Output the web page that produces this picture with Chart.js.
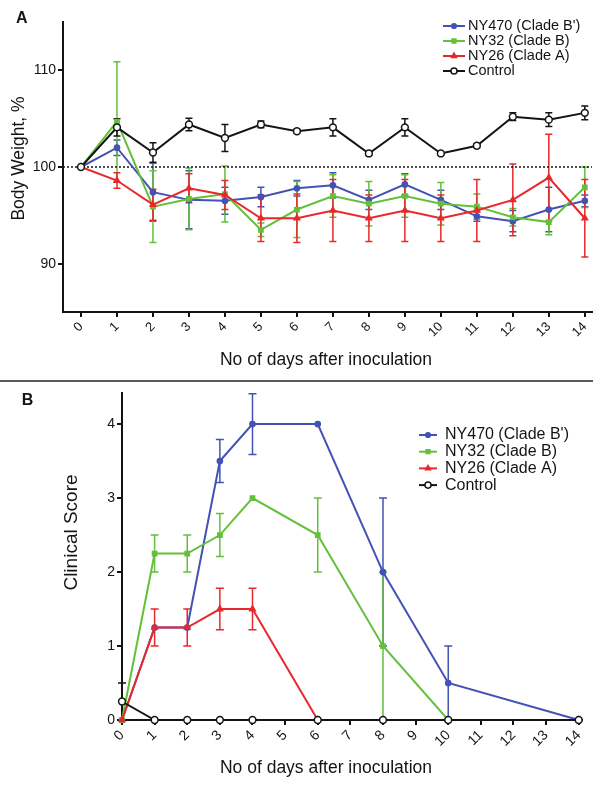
<!DOCTYPE html>
<html>
<head>
<meta charset="utf-8">
<title>Body weight and clinical score</title>
<script src="https://cdn.jsdelivr.net/npm/chart.js@4.4.1/dist/chart.umd.min.js"></script>
<style>
  html, body { margin: 0; padding: 0; background: #fff; }
  #wrap { position: relative; width: 601px; height: 790px; }
  #chartA { position: absolute; left: 0; top: 0; }
  #sep { position: absolute; left: 0; top: 380px; width: 593px; height: 2px; background: #5a5a5a; }
  #chartB { position: absolute; left: 0; top: 382px; }
</style>
</head>
<body>
<div id="wrap">
  <canvas id="chartA" width="601" height="379"></canvas>
  <div id="sep"></div>
  <canvas id="chartB" width="601" height="408"></canvas>
</div>
<script>
// --- data ---
const seriesLabels = ["NY470 (Clade B')", "NY32 (Clade B)", "NY26 (Clade A)", "Control"];

// panel A: body weight (%), days 0..14
const days = [0, 1, 2, 3, 4, 5, 6, 7, 8, 9, 10, 11, 12, 13, 14];
const weightNY470 = [100, 102.0, 97.4, 96.6, 96.5, 96.9, 97.8, 98.1, 96.6, 98.2, 96.6, 94.9, 94.4, 95.6, 96.5];
const weightNY470Err = [0, 0.8, 3.0, 3.0, 1.4, 1.0, 0.8, 1.3, 1.0, 1.1, 1.0, 0.5, 1.1, 2.3, 0.6];
const weightNY32 = [100, 104.7, 95.9, 96.7, 97.2, 93.5, 95.6, 97.0, 96.2, 97.0, 96.2, 95.9, 94.8, 94.3, 97.9];
const weightNY32Err = [0, 6.2, 3.7, 3.2, 2.9, 0.7, 2.9, 2.2, 2.3, 2.2, 2.2, 1.3, 0.9, 1.3, 2.1];
const weightNY26 = [100, 98.6, 96.1, 97.8, 97.1, 94.7, 94.7, 95.5, 94.7, 95.5, 94.7, 95.5, 96.6, 98.9, 94.7];
const weightNY26Err = [0, 0.8, 1.6, 1.5, 1.5, 2.4, 2.5, 3.2, 2.4, 3.2, 2.4, 3.2, 3.7, 4.5, 4.0];
const weightControl = [100, 104.1, 101.5, 104.4, 103.0, 104.4, 103.7, 104.1, 101.4, 104.1, 101.4, 102.2, 105.2, 104.9, 105.6];
const weightControlErr = [0, 0.9, 1.0, 0.65, 1.4, 0.35, 0.2, 0.9, 0.2, 0.9, 0.15, 0.2, 0.4, 0.7, 0.7];
const baselineWeight = 100;
const weightTicks = [90, 100, 110];

// panel B: clinical score
const scoreDays = [0, 1, 2, 3, 4, 6, 8, 10, 14];
const scoreNY470 = [0, 1.25, 1.25, 3.5, 4, 4, 2, 0.5, 0];
const scoreNY470Err = [0, 0, 0, 0.29, 0.41, 0, 1, 0.5, 0];
const scoreNY32 = [0, 2.25, 2.25, 2.5, 3, 2.5, 1, 0, 0];
const scoreNY32Err = [0, 0.25, 0.25, 0.29, 0, 0.5, 1, 0, 0];
const scoreNY26 = [0, 1.25, 1.25, 1.5, 1.5, 0, 0, 0, 0];
const scoreNY26Err = [0, 0.25, 0.25, 0.28, 0.28, 0, 0, 0, 0];
const scoreControl = [0.25, 0, 0, 0, 0, 0, 0, 0, 0];
const scoreControlErr = [0.25, 0, 0, 0, 0, 0, 0, 0, 0];
const scoreTicks = [0, 1, 2, 3, 4];
const scoreDayTicks = [0, 1, 2, 3, 4, 5, 6, 7, 8, 9, 10, 11, 12, 13, 14];

// --- styles ---
const FONT = "'Liberation Sans', Arial, sans-serif";
const INK = '#141414';
const looks = [
  { color: '#4352b4', pointStyle: 'circle', radius: 2.6, fill: '#4352b4', order: 3 },
  { color: '#63c03b', pointStyle: 'rect', radius: 3, fill: '#63c03b', order: 2 },
  { color: '#e8282b', pointStyle: 'triangle', radius: 3.2, fill: '#e8282b', order: 1 },
  { color: INK, pointStyle: 'circle', radius: 3.4, fill: '#ffffff', order: 0 }
];

Chart.defaults.font.family = FONT;
Chart.defaults.color = INK;

function points(xs, ys) {
  return xs.map((x, i) => ({ x: x, y: ys[i] }));
}

function makeSeries(xs, values, errors) {
  return values.map((vals, k) => ({
    label: seriesLabels[k],
    data: points(xs, vals),
    errors: errors[k],
    borderColor: looks[k].color,
    borderWidth: 2,
    pointStyle: looks[k].pointStyle,
    pointRadius: looks[k].radius,
    pointBackgroundColor: looks[k].fill,
    pointBorderColor: looks[k].color,
    pointBorderWidth: 1.5,
    tension: 0,
    clip: false,
    order: looks[k].order
  }));
}

// error bars drawn below the lines
const errorBars = {
  id: 'errorBars',
  beforeDatasetsDraw(chart, args, opts) {
    const ctx = chart.ctx;
    const ys = chart.scales.y;
    const cap = opts.cap || 4;
    const metas = chart.getSortedVisibleDatasetMetas().slice().reverse();
    metas.forEach(meta => {
      const ds = chart.data.datasets[meta.index];
      if (!ds.errors) return;
      ctx.save();
      ctx.strokeStyle = ds.borderColor;
      ctx.lineWidth = opts.width || 1.5;
      meta.data.forEach((pt, j) => {
        const e = ds.errors[j];
        if (!e) return;
        const v = ds.data[j].y;
        const top = ys.getPixelForValue(v + e);
        const bot = ys.getPixelForValue(v - e);
        ctx.beginPath();
        ctx.moveTo(pt.x, top); ctx.lineTo(pt.x, bot);
        ctx.moveTo(pt.x - cap, top); ctx.lineTo(pt.x + cap, top);
        ctx.moveTo(pt.x - cap, bot); ctx.lineTo(pt.x + cap, bot);
        ctx.stroke();
      });
      ctx.restore();
    });
  }
};

// legend with a short line and the marker in its middle
const lineLegend = {
  id: 'lineLegend',
  afterDraw(chart, args, opts) {
    if (!opts || opts.x === undefined) return;
    const ctx = chart.ctx;
    ctx.save();
    ctx.font = opts.font;
    ctx.textBaseline = 'middle';
    let y = opts.y;
    chart.data.datasets.forEach(ds => {
      if (ds.skipLegend) return;
      ctx.strokeStyle = ds.borderColor;
      ctx.lineWidth = 2;
      ctx.beginPath();
      ctx.moveTo(opts.x, y);
      ctx.lineTo(opts.x + opts.lineLen, y);
      ctx.stroke();
      ctx.fillStyle = ds.pointBackgroundColor;
      ctx.strokeStyle = ds.pointBorderColor;
      ctx.lineWidth = ds.pointBorderWidth;
      Chart.helpers.drawPoint(ctx, {
        pointStyle: ds.pointStyle, radius: ds.pointRadius * 0.9,
        rotation: 0, borderWidth: ds.pointBorderWidth
      }, opts.x + opts.lineLen / 2, y);
      ctx.fillStyle = INK;
      ctx.fillText(ds.label, opts.x + opts.lineLen + opts.gap, y);
      y += opts.rowH;
    });
    ctx.restore();
  }
};

// titles and panel letters
const freeText = {
  id: 'freeText',
  afterDraw(chart, args, opts) {
    if (!opts || !opts.items) return;
    const ctx = chart.ctx;
    opts.items.forEach(t => {
      ctx.save();
      ctx.translate(t.x, t.y);
      ctx.rotate(t.rot || 0);
      ctx.font = t.font;
      ctx.fillStyle = INK;
      ctx.textAlign = t.align || 'center';
      ctx.textBaseline = t.baseline || 'middle';
      ctx.fillText(t.text, 0, 0);
      ctx.restore();
    });
  }
};

Chart.register(errorBars, lineLegend, freeText);

function axisLook(extra) {
  return Object.assign({
    type: 'linear',
    grid: { drawOnChartArea: false, drawTicks: true, tickLength: 5, lineWidth: 2, color: INK },
    border: { display: true, width: 2, color: INK }
  }, extra);
}

// --- panel A ---
const setA = makeSeries(days,
  [weightNY470, weightNY32, weightNY26, weightControl],
  [weightNY470Err, weightNY32Err, weightNY26Err, weightControlErr]);
setA.push({
  label: 'baseline',
  skipLegend: true,
  data: [{ x: -0.5, y: baselineWeight }, { x: 14.2, y: baselineWeight }],
  borderColor: INK,
  borderWidth: 1.5,
  borderDash: [2, 2],
  pointRadius: 0,
  clip: false,
  order: 9
});

new Chart(document.getElementById('chartA'), {
  type: 'line',
  data: { datasets: setA },
  options: {
    responsive: false,
    animation: false,
    events: [],
    layout: { padding: { top: 22, right: 9, left: 0, bottom: 0 } },
    scales: {
      x: axisLook({
        min: -0.5, max: 14.2,
        afterBuildTicks: s => { s.ticks = days.map(v => ({ value: v })); },
        afterFit: s => { s.height = 67; },
        ticks: { minRotation: 45, maxRotation: 45, autoSkip: false, padding: 2, font: { size: 13 } }
      }),
      y: axisLook({
        min: 85, max: 115,
        afterBuildTicks: s => { s.ticks = weightTicks.map(v => ({ value: v })); },
        afterFit: s => { s.width = 63; },
        ticks: { padding: 2, font: { size: 14 } }
      })
    },
    plugins: {
      legend: { display: false },
      tooltip: { enabled: false },
      errorBars: { cap: 3.5, width: 1.5 },
      lineLegend: { x: 443, y: 26, lineLen: 22, gap: 3, rowH: 15, font: '14.5px ' + FONT },
      freeText: { items: [
        { text: 'A', x: 16, y: 23, align: 'left', baseline: 'alphabetic', font: 'bold 16px ' + FONT },
        { text: 'Body Weight, %', x: 19.5, y: 158.5, rot: -Math.PI / 2, font: '17.5px ' + FONT },
        { text: 'No of days after inoculation', x: 326, y: 360, font: '17.5px ' + FONT }
      ] }
    }
  }
});

// --- panel B ---
const setB = makeSeries(scoreDays,
  [scoreNY470, scoreNY32, scoreNY26, scoreControl],
  [scoreNY470Err, scoreNY32Err, scoreNY26Err, scoreControlErr]);

new Chart(document.getElementById('chartB'), {
  type: 'line',
  data: { datasets: setB },
  options: {
    responsive: false,
    animation: false,
    events: [],
    layout: { padding: { top: 11, right: 19, left: 0, bottom: 0 } },
    scales: {
      x: axisLook({
        min: 0, max: 14.1,
        afterBuildTicks: s => { s.ticks = scoreDayTicks.map(v => ({ value: v })); },
        afterFit: s => { s.height = 70; },
        ticks: { minRotation: 45, maxRotation: 45, autoSkip: false, padding: 2, font: { size: 14 } }
      }),
      y: axisLook({
        min: 0, max: 4.42,
        afterBuildTicks: s => { s.ticks = scoreTicks.map(v => ({ value: v })); },
        afterFit: s => { s.width = 122; },
        ticks: { padding: 2, font: { size: 14 } }
      })
    },
    plugins: {
      legend: { display: false },
      tooltip: { enabled: false },
      errorBars: { cap: 4, width: 1.5 },
      lineLegend: { x: 419, y: 53, lineLen: 18, gap: 8, rowH: 16.7, font: '16px ' + FONT },
      freeText: { items: [
        { text: 'B', x: 21.7, y: 23, align: 'left', baseline: 'alphabetic', font: 'bold 16px ' + FONT },
        { text: 'Clinical Score', x: 72, y: 150.5, rot: -Math.PI / 2, font: '19px ' + FONT },
        { text: 'No of days after inoculation', x: 326, y: 386, font: '17.5px ' + FONT }
      ] }
    }
  }
});
</script>
</body>
</html>
